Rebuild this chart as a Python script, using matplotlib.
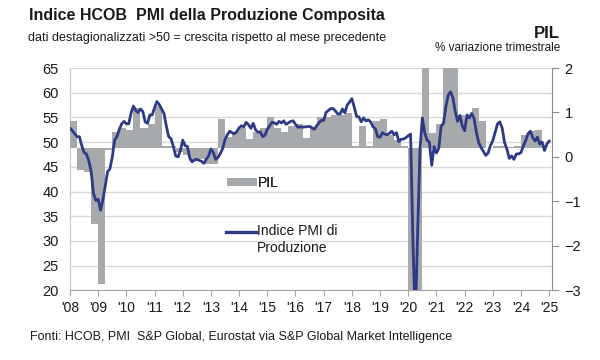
import matplotlib
matplotlib.use('Agg')
import matplotlib.pyplot as plt
from matplotlib import font_manager as fm
from matplotlib.patches import Patch
from matplotlib.lines import Line2D
from matplotlib.legend_handler import HandlerLine2D
import numpy as np


def pick(fams):
    for f in fams:
        try:
            fm.findfont(fm.FontProperties(family=f), fallback_to_default=False)
            return f
        except Exception:
            pass
    return 'DejaVu Sans'


FONT = pick(['Liberation Sans Narrow', 'Arial Narrow', 'Liberation Sans'])
plt.rcParams['font.family'] = [FONT, 'DejaVu Sans']

# ---------------- data ----------------
pmi_2008 = [52.8, 52.3, 51.7, 51.1, 51.1, 49.3, 47.9, 47.6, 46.2, 44.1, 39.6, 38.2]
pmi_2009 = [38.4, 36.2, 38.3, 41.1, 44.0, 44.6, 47.0, 50.4, 51.1, 52.6, 53.7, 54.2]
pmi_2010 = [53.7, 53.7, 55.9, 57.3, 56.4, 56.0, 56.7, 56.2, 54.1, 53.8, 55.5, 55.5]
pmi_2011 = [57.0, 58.2, 57.6, 56.7, 55.8, 53.3, 51.1, 50.7, 49.1, 47.2, 47.0, 48.3]
pmi_2012 = [50.4, 49.3, 49.1, 46.7, 46.0, 46.4, 46.5, 46.3, 46.1, 45.7, 46.5, 47.2]
pmi_2013 = [48.6, 47.9, 46.5, 46.9, 47.7, 48.7, 50.5, 51.5, 52.2, 51.9, 51.7, 52.1]
pmi_2014 = [52.9, 53.3, 53.1, 54.0, 53.5, 52.8, 53.8, 52.5, 52.0, 52.1, 51.1, 51.4]
pmi_2015 = [52.6, 53.3, 54.0, 53.9, 53.6, 54.2, 53.9, 54.3, 53.6, 53.9, 54.2, 54.3]
pmi_2016 = [53.6, 53.0, 53.1, 53.0, 53.1, 53.1, 53.2, 52.9, 52.6, 53.3, 53.9, 54.4]
pmi_2017 = [54.4, 56.0, 56.4, 56.8, 56.8, 56.3, 55.7, 55.7, 56.7, 55.9, 57.5, 58.1]
pmi_2018 = [58.8, 57.1, 55.2, 55.1, 54.1, 54.9, 54.3, 54.5, 54.1, 53.1, 52.7, 51.1]
pmi_2019 = [51.0, 51.9, 51.6, 51.5, 51.8, 52.2, 51.5, 51.9, 50.1, 50.6, 50.6, 50.9]
pmi_2020 = [51.3, 51.6, 29.7, 13.6, 31.9, 48.5, 54.9, 51.9, 50.4, 50.0, 45.3, 49.1]
pmi_2021 = [47.8, 48.8, 53.2, 53.8, 57.1, 59.5, 60.2, 59.0, 56.2, 54.2, 55.4, 53.3]
pmi_2022 = [52.3, 55.5, 54.9, 55.8, 54.8, 52.0, 49.9, 48.9, 48.1, 47.3, 47.8, 49.3]
pmi_2023 = [50.3, 52.0, 53.7, 54.1, 52.8, 49.9, 48.6, 46.7, 47.2, 46.5, 47.6, 47.6]
pmi_2024 = [47.9, 49.2, 50.3, 51.7, 52.2, 50.9, 50.2, 51.0, 49.6, 50.0, 48.3, 49.6]
pmi_2025 = [50.2]

gdp_2008 = [0.6, -0.5, -0.55, -1.7]
gdp_2009 = [-3.05, -0.05, 0.35, 0.45]
gdp_2010 = [0.4, 0.9, 0.45, 0.55]
gdp_2011 = [0.95, 0.05, 0.05, -0.1]
gdp_2012 = [-0.15, -0.3, -0.25, -0.37]
gdp_2013 = [-0.35, 0.65, 0.25, 0.35]
gdp_2014 = [0.45, 0.2, 0.35, 0.45]
gdp_2015 = [0.7, 0.45, 0.37, 0.5]
gdp_2016 = [0.55, 0.22, 0.45, 0.7]
gdp_2017 = [0.7, 0.75, 0.74, 0.78]
gdp_2018 = [0.05, 0.5, 0.05, 0.6]
gdp_2019 = [0.65, 0.3, 0.17, 0.05]
gdp_2020 = [-3.6, -11.5, 12.0, 0.33]
gdp_2021 = [0.55, 2.2, 2.2, 0.75]
gdp_2022 = [0.7, 0.9, 0.6, 0.0]
gdp_2023 = [0.05, 0.05, 0.02, 0.05]
gdp_2024 = [0.3, 0.38, 0.4]

year_labels = ["'08", "'09", "'10", "'11", "'12", "'13", "'14", "'15", "'16",
               "'17", "'18", "'19", "'20", "'21", "'22", "'23", "'24", "'25"]
left_ticks = [20, 25, 30, 35, 40, 45, 50, 55, 60, 65]
right_ticks = [-3, -2, -1, 0, 1, 2]

pmi = (pmi_2008 + pmi_2009 + pmi_2010 + pmi_2011 + pmi_2012 + pmi_2013 +
       pmi_2014 + pmi_2015 + pmi_2016 + pmi_2017 + pmi_2018 + pmi_2019 +
       pmi_2020 + pmi_2021 + pmi_2022 + pmi_2023 + pmi_2024 + pmi_2025)
gdp = (gdp_2008 + gdp_2009 + gdp_2010 + gdp_2011 + gdp_2012 + gdp_2013 +
       gdp_2014 + gdp_2015 + gdp_2016 + gdp_2017 + gdp_2018 + gdp_2019 +
       gdp_2020 + gdp_2021 + gdp_2022 + gdp_2023 + gdp_2024)

START = 2008
x_pmi = START + np.arange(len(pmi)) / 12.0
x_gdp = START + np.arange(len(gdp)) / 4.0
BAR_BASE = 0.2  # bars drawn from this level of the right axis (as in original)

LINE_C = '#2E3A85'
BAR_C = '#A7AAAD'
GRID_C = '#D9D9D9'
TXT = '#1A1A1A'

# ---------------- figure ----------------
fig = plt.figure(figsize=(6, 3.6), dpi=100)
rect = [70 / 600, 1 - 290.3 / 360, (552 - 70) / 600, (290.3 - 68) / 360]

ax_g = fig.add_axes(rect)
ax_b = ax_g.twinx()
ax_l = ax_g.twinx()

# grid / left axis
ax_g.set_xlim(2008, 2025.1)
ax_g.set_ylim(20, 65)
ax_g.set_yticks(left_ticks)
ax_g.yaxis.grid(True, color=GRID_C, linewidth=1.0)
ax_g.tick_params(axis='y', length=0, labelsize=10.5, labelcolor=TXT, pad=8)
ax_g.set_xticks(np.arange(2008, 2026))
ax_g.set_xticklabels(year_labels)
ax_g.tick_params(axis='x', direction='out', length=4, color='#A6A6A6',
                 labelsize=10, labelcolor=TXT, pad=4)
for s in ['top', 'right']:
    ax_g.spines[s].set_visible(False)
ax_g.spines['left'].set_color('#C8C8C8')
ax_g.spines['bottom'].set_color('#A6A6A6')

# bars (right axis)
ax_b.bar(x_gdp, gdp, width=0.25, bottom=BAR_BASE, align='edge', color=BAR_C,
         edgecolor='none', linewidth=0)
ax_b.set_ylim(-3, 2)
ax_b.set_yticks(right_ticks)
ax_b.tick_params(axis='y', direction='out', length=5, color='#8C8C8C',
                 labelsize=10.5, labelcolor=TXT, pad=4)
for s in ['top', 'left', 'bottom']:
    ax_b.spines[s].set_visible(False)
ax_b.spines['right'].set_color('#8C8C8C')

# line (left scale)
ax_l.plot(x_pmi, pmi, color=LINE_C, linewidth=2.0, solid_joinstyle='round')
ax_l.set_ylim(20, 65)
ax_l.set_yticks([])
for s in ax_l.spines.values():
    s.set_visible(False)


# legend
class TopLine(HandlerLine2D):
    """Line handle aligned with the first line of a two-line label."""
    def __init__(self, shift, **kw):
        super().__init__(**kw)
        self.shift = shift

    def create_artists(self, legend, orig_handle, xdescent, ydescent, width,
                       height, fontsize, trans):
        arts = super().create_artists(legend, orig_handle, xdescent, ydescent,
                                      width, height, fontsize, trans)
        for a in arts:
            a.set_ydata(np.asarray(a.get_ydata(), dtype=float) + self.shift)
        return arts


h_bar = Patch(facecolor=BAR_C, edgecolor='none')
h_line = Line2D([], [], color=LINE_C, linewidth=2.4)
common = dict(frameon=False, fontsize=10, handlelength=2.15,
              handletextpad=0.1, borderpad=0, borderaxespad=0,
              labelcolor=TXT, loc='center left')
leg1 = fig.legend([h_bar], ['PIL'], bbox_to_anchor=(227 / 600, 1 - 183.3 / 360),
                  handleheight=0.5, **common)
leg2 = fig.legend([h_line], ['Indice PMI di\nProduzione'],
                  bbox_to_anchor=(226 / 600, 1 - 239.5 / 360),
                  handler_map={h_line: TopLine(5.6)}, **common)
fig.add_artist(leg1)

# texts
fig.text(29 / 600, 1 - 15.5 / 360, 'Indice HCOB  PMI della Produzione Composita',
         fontsize=11.5, fontweight='bold', color=TXT, va='center', ha='left')
fig.text(28 / 600, 1 - 37.5 / 360,
         'dati destagionalizzati >50 = crescita rispetto al mese precedente',
         fontsize=9, color=TXT, va='center', ha='left')
fig.text(560 / 600, 1 - 34 / 360, 'PIL', fontsize=12, fontweight='bold',
         color=TXT, va='center', ha='right')
fig.text(560 / 600, 1 - 48 / 360, '% variazione trimestrale', fontsize=8.5,
         color=TXT, va='center', ha='right')
fig.text(30 / 600, 1 - 337 / 360,
         'Fonti: HCOB, PMI  S&P Global, Eurostat via S&P Global Market Intelligence',
         fontsize=9, color=TXT, va='center', ha='left')

fig.savefig('out.png', dpi=100)
